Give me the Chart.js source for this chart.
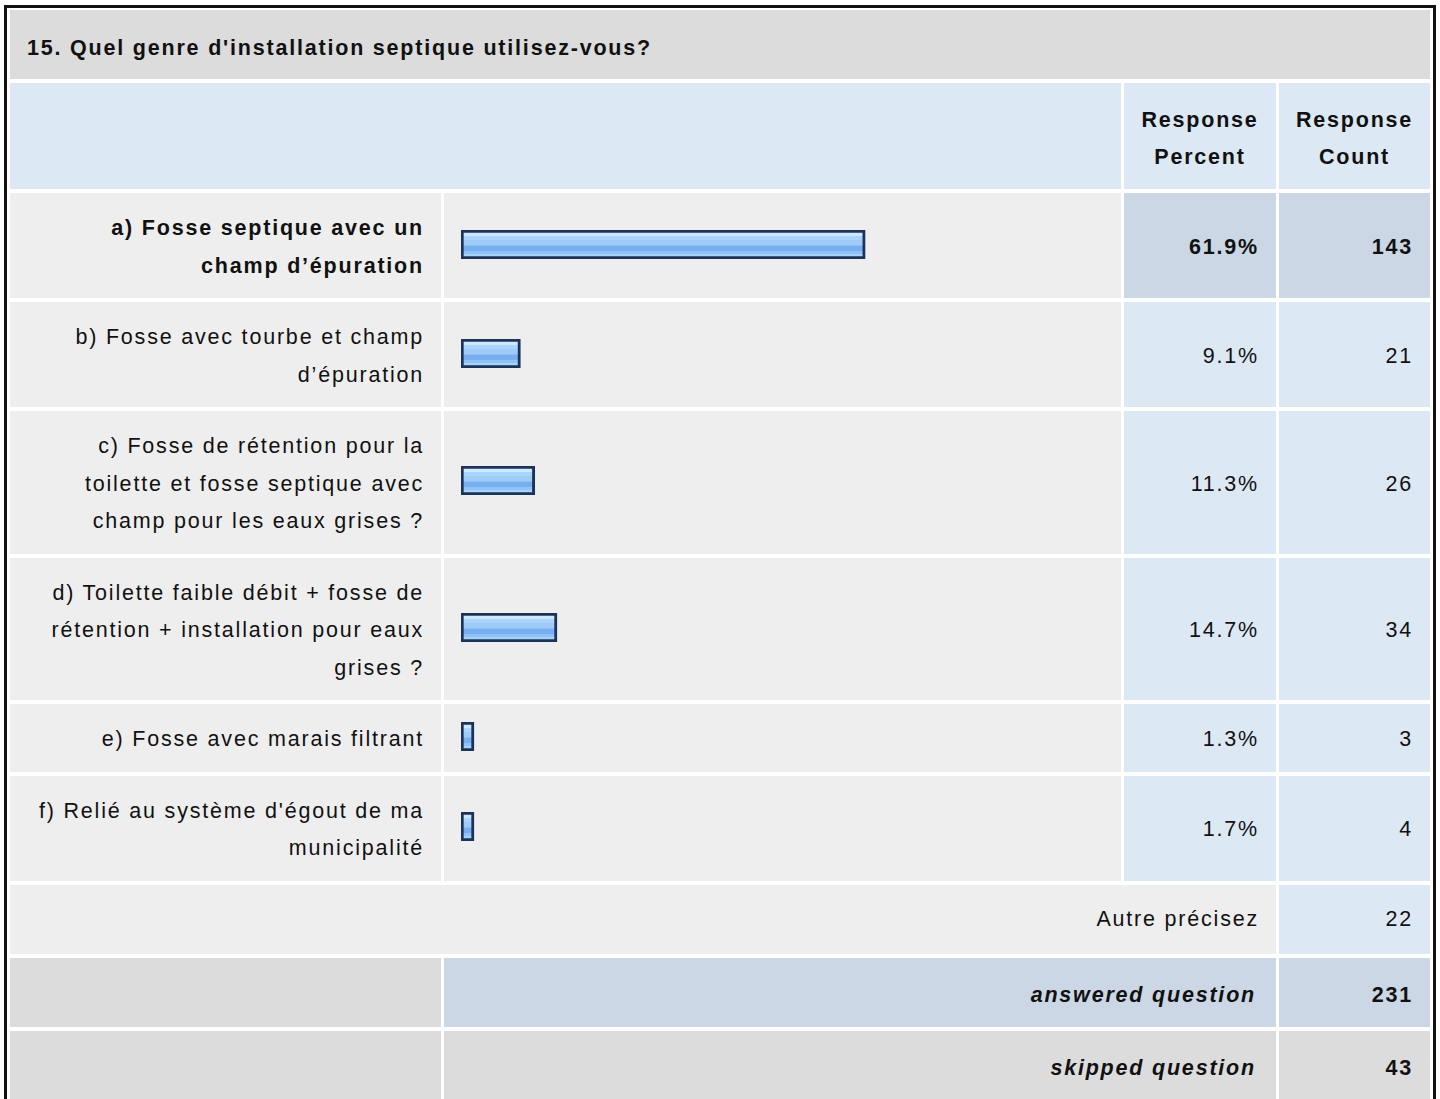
<!DOCTYPE html>
<html>
<head>
<meta charset="utf-8">
<script src="https://cdn.jsdelivr.net/npm/chart.js@4"></script>
<style>
  body { margin: 0; background: #fff; font-family: "Liberation Sans", Arial, sans-serif; color: #111; }
  #box { position: absolute; left: 4px; top: 5px; width: 1426px; border: 3px solid #111; border-bottom: none; }
  table { border-collapse: separate; border-spacing: 3px 4px; margin-top: -2px; width: 100%; table-layout: fixed; font-size: 21.5px; letter-spacing: 1.8px; line-height: 37.5px; }
  td, th { padding: 17px 17px 13px; vertical-align: middle; }
  .title { background: #dcdcdc; font-weight: bold; text-align: left; padding: 19.5px 17px 12px; }
  .hdr { background: #dde8f5; }
  th.hdr { text-align: center; font-weight: bold; padding: 18.5px 8px 12.5px; }
  .gray { background: #eeeeee; }
  .lab { text-align: right; }
  .blue { background: #dde8f5; text-align: right; }
  .dblue { background: #cbd7e5; text-align: right; }
  .dgray { background: #dcdcdc; text-align: right; }
  .b { font-weight: bold; }
  .tall td { padding-top: 16.75px; padding-bottom: 14.75px; }
  .tall td.bi { font-weight: bold; font-style: italic; padding: 19.5px 20px 12px 17px; }
  .tall td.b { padding-top: 19.5px; padding-bottom: 12px; }
  td.barcell { padding: 0; position: relative; }
  .barwrap { position: absolute; left: 17px; right: 7px; top: 50%; height: 29px; margin-top: -16px; }
</style>
</head>
<body>
<div id="box">
<table id="tbl">
  <colgroup><col style="width:431px"><col style="width:677px"><col style="width:152px"><col style="width:151px"></colgroup>
</table>
</div>
<script>
const question = "15. Quel genre d'installation septique utilisez-vous?";
const categories = [
  ["a) Fosse septique avec un", "champ d\u2019épuration"],
  ["b) Fosse avec tourbe et champ", "d\u2019épuration"],
  ["c) Fosse de rétention pour la", "toilette et fosse septique avec", "champ pour les eaux grises ?"],
  ["d) Toilette faible débit + fosse de", "rétention + installation pour eaux", "grises ?"],
  ["e) Fosse avec marais filtrant"],
  ["f) Relié au système d'égout de ma", "municipalité"]
];
const percents = [61.9, 9.1, 11.3, 14.7, 1.3, 1.7];
const counts = [143, 21, 26, 34, 3, 4];
const otherLabel = "Autre précisez";
const otherCount = 22;
const answered = 231;
const skipped = 43;

let tbl = document.getElementById("tbl");
let html = '<tr><td class="title" colspan="4">' + question + '</td></tr>';
html += '<tr><td class="hdr" colspan="2"></td><th class="hdr">Response<br>Percent</th><th class="hdr">Response<br>Count</th></tr>';
categories.forEach(function(lines, i){
  let top = i == 0;
  html += '<tr><td class="gray lab' + (top ? ' b' : '') + '">' + lines.join('<br>') + '</td>';
  html += '<td class="gray barcell"><div class="barwrap"><canvas id="bar' + i + '"></canvas></div></td>';
  html += '<td class="' + (top ? 'dblue b' : 'blue') + '">' + percents[i].toFixed(1) + '%</td>';
  html += '<td class="' + (top ? 'dblue b' : 'blue') + '">' + counts[i] + '</td></tr>';
});
html += '<tr class="tall"><td class="gray lab" colspan="3">' + otherLabel + '</td><td class="blue">' + otherCount + '</td></tr>';
html += '<tr class="tall"><td class="dgray"></td><td class="dblue bi" colspan="2">answered question</td><td class="dblue b">' + answered + '</td></tr>';
html += '<tr class="tall"><td class="dgray"></td><td class="dgray bi" colspan="2">skipped question</td><td class="dgray b">' + skipped + '</td></tr>';
tbl.insertAdjacentHTML('beforeend', html);

// glossy blue fill, same look as the old survey bars
function barFill(ctx){
  let area = ctx.chart.chartArea;
  if(!area) return '#a0ccf8';
  let g = ctx.chart.ctx.createLinearGradient(0, area.top, 0, area.bottom);
  g.addColorStop(0.1, '#cfe8ff');
  g.addColorStop(0.2, '#cfe8ff');
  g.addColorStop(0.21, '#a9d4fb');
  g.addColorStop(0.33, '#a9d4fb');
  g.addColorStop(0.34, '#9fcbf8');
  g.addColorStop(0.53, '#9fcbf8');
  g.addColorStop(0.54, '#78aff0');
  g.addColorStop(0.72, '#78aff0');
  g.addColorStop(0.73, '#8fc2f6');
  g.addColorStop(0.82, '#8fc2f6');
  g.addColorStop(0.83, '#a6d3fb');
  g.addColorStop(0.9, '#a6d3fb');
  return g;
}

percents.forEach(function(p, i){
  new Chart(document.getElementById('bar' + i), {
    type: 'bar',
    data: {
      labels: [categories[i].join(' ')],
      datasets: [{
        data: [p],
        backgroundColor: barFill,
        borderColor: '#1c3358',
        borderWidth: 3,
        borderSkipped: false,
        barPercentage: 1,
        categoryPercentage: 1,
        minBarLength: 13
      }]
    },
    options: {
      indexAxis: 'y',
      responsive: true,
      maintainAspectRatio: false,
      animation: false,
      layout: { padding: 0 },
      scales: {
        x: { min: 0, max: 100, display: false },
        y: { display: false }
      },
      plugins: { legend: { display: false }, tooltip: { enabled: false } }
    }
  });
});
</script>
</body>
</html>
